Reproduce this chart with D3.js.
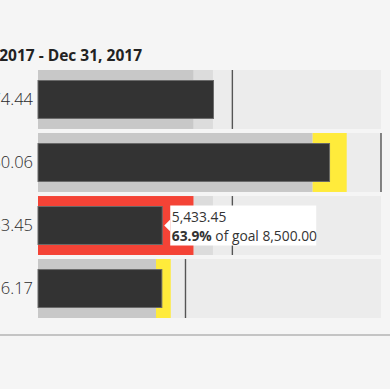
<!DOCTYPE html>
<html>
<head>
<meta charset="utf-8">
<script src="https://cdnjs.cloudflare.com/ajax/libs/d3/7.8.5/d3.min.js"></script>
<style>
    html, body { margin: 0; padding: 0; background: #f5f5f5; overflow: hidden; }
    svg { display: block; font-family: "Open Sans", sans-serif; }
</style>
</head>
<body>
<div id="chart"></div>
<script>
const title = "Jan 1, 2017 - Dec 31, 2017";
const values = [7674.44, 12750.06, 5433.45, 5416.17];
const goals = [8500, 15000, 8500, 6450];
const lowBands = [6800, 12000, 6800, 5160];
const midBands = [7650, 13500, 7650, 5805];
const domainMax = 15000;
const tooltipRow = 2;

const W = 390, H = 389;
const left = 38, right = 381;
const rowTop = 70, rowH = 58, rowGap = 4;

const fmt = d3.format(",.2f");
const pct = d3.format(".1%");

const svg = d3.select("#chart")
    .append("svg")
    .attr("width", W)
    .attr("height", H);

const x = d3.scaleLinear().domain([0, domainMax]).range([left, right]);
const y = d3.scaleBand()
    .domain(d3.range(values.length))
    .range([rowTop, rowTop + values.length * (rowH + rowGap)])
    .paddingInner(rowGap / (rowH + rowGap))
    .paddingOuter(0);

// title
svg.append("text")
    .attr("x", 142)
    .attr("y", 61)
    .attr("text-anchor", "end")
    .attr("font-size", 15.5)
    .attr("font-weight", "bold")
    .attr("fill", "#222")
    .text(title);

const rows = svg.selectAll(".row")
    .data(values.map((v, i) => ({ i, v, goal: goals[i], low: lowBands[i], mid: midBands[i] })))
    .enter()
    .append("g")
    .attr("class", "row")
    .attr("transform", d => `translate(0, ${y(d.i)})`);

// which band the value falls in gets coloured
const bandColor = (d, band) => {
    if (band === 0) return d.v < d.low ? "#f44336" : "#c8c8c8";
    if (band === 1) return d.v >= d.low && d.v < d.mid ? "#ffeb3b" : "#dcdcdc";
    return "#ececec";
};

rows.append("rect")
    .attr("x", x(0))
    .attr("width", x(domainMax) - x(0))
    .attr("height", y.bandwidth())
    .attr("fill", d => bandColor(d, 2));

rows.append("rect")
    .attr("x", d => x(d.low))
    .attr("width", d => x(d.mid) - x(d.low))
    .attr("height", y.bandwidth())
    .attr("fill", d => bandColor(d, 1));

rows.append("rect")
    .attr("x", x(0))
    .attr("width", d => x(d.low) - x(0))
    .attr("height", y.bandwidth())
    .attr("fill", d => bandColor(d, 0));

// value bar
rows.append("rect")
    .attr("x", x(0))
    .attr("y", 10.5)
    .attr("width", d => x(d.v) - x(0))
    .attr("height", y.bandwidth() - 21)
    .attr("fill", "#333")
    .attr("stroke", "#6a6a6a")
    .attr("stroke-width", 1);

// goal marker
rows.append("line")
    .attr("x1", d => x(d.goal))
    .attr("x2", d => x(d.goal))
    .attr("y1", 0)
    .attr("y2", y.bandwidth())
    .attr("stroke", "#555")
    .attr("stroke-width", 1.4);

// value labels
rows.append("text")
    .attr("x", 33)
    .attr("y", y.bandwidth() / 2)
    .attr("dy", "0.36em")
    .attr("text-anchor", "end")
    .attr("font-size", 16.5)
    .attr("font-weight", 300)
    .attr("fill", "#2a2a2a")
    .text(d => fmt(d.v));

// tooltip on the hovered row
const t = rows.filter(d => d.i === tooltipRow);
const tip = t.append("g")
    .attr("transform", d => `translate(${x(d.v)}, ${y.bandwidth() / 2})`);
tip.append("path")
    .attr("d", "M2,0 L8,-6 L8,6 Z")
    .attr("fill", "#fff");
tip.append("rect")
    .attr("x", 8)
    .attr("y", -20)
    .attr("width", 146)
    .attr("height", 40)
    .attr("fill", "#fff");
tip.append("text")
    .attr("x", 9.5)
    .attr("y", -4)
    .attr("font-size", 13.8)
    .attr("fill", "#333")
    .text(d => fmt(d.v));
const line2 = tip.append("text")
    .attr("x", 9.5)
    .attr("y", 15)
    .attr("font-size", 13.8)
    .attr("fill", "#333");
line2.append("tspan")
    .attr("font-weight", "bold")
    .text(d => pct(d.v / d.goal));
line2.append("tspan")
    .text(d => " of goal " + fmt(d.goal));

// bottom rule
svg.append("line")
    .attr("x1", 0)
    .attr("x2", W)
    .attr("y1", 335)
    .attr("y2", 335)
    .attr("stroke", "#c4c4c4")
    .attr("stroke-width", 2);
</script>
</body>
</html>
